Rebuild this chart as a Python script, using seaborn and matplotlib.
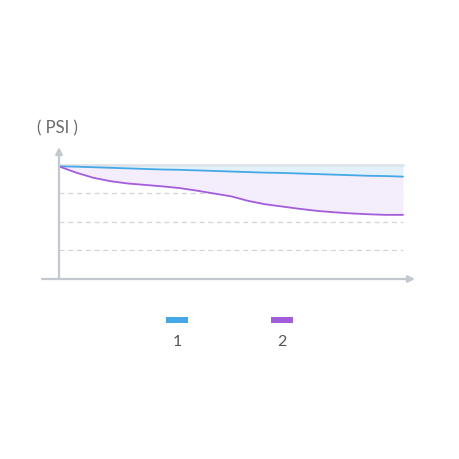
import numpy as np
import pandas as pd
import matplotlib
matplotlib.use("Agg")
import matplotlib.pyplot as plt
from matplotlib.patches import Rectangle
import seaborn as sns

# Data:
steps = list(range(21))
series_1 = [3.95, 3.94, 3.92, 3.90, 3.88, 3.86, 3.84, 3.83, 3.81, 3.79, 3.77,
            3.75, 3.73, 3.72, 3.70, 3.68, 3.66, 3.64, 3.62, 3.61, 3.59]
series_2 = [3.95, 3.73, 3.55, 3.43, 3.35, 3.30, 3.25, 3.19, 3.10, 3.00, 2.90,
            2.74, 2.62, 2.54, 2.46, 2.39, 2.34, 2.30, 2.27, 2.25, 2.25]
grid_levels = [1, 2, 3]
top_level = 4
series_names = ["1", "2"]
unit_label = "( PSI )"

blue = "#45a8e6"
purple = "#a35ddc"
axis_grey = "#c3c8d0"

df = pd.DataFrame({
    "step": steps * 2,
    "value": series_1 + series_2,
    "series": [series_names[0]] * len(steps) + [series_names[1]] * len(steps),
})

sns.set_style("white")
plt.rcParams["font.family"] = ["Lato", "DejaVu Sans"]

fig = plt.figure(figsize=(4.6, 4.6), dpi=100)
ax = fig.add_axes([42 / 460, 180 / 460, 373 / 460, 132 / 460])

# Fills:
ax.fill_between(steps, series_1, top_level, color="#e2f1fb", lw=0, zorder=1)
ax.fill_between(steps, series_2, series_1, color="#f4edfc", lw=0, zorder=1)

# Grid lines:
for g in grid_levels:
    ax.plot([steps[0], steps[-1]], [g, g], color="#d4d4d4", lw=0.9, ls=(0, (4, 3)), zorder=0)
ax.plot([steps[0], steps[-1]], [top_level, top_level], color="#dfe3ea", lw=2.0, zorder=1)

# Lines:
sns.lineplot(data=df, x="step", y="value", hue="series",
             palette=[blue, purple], lw=1.3, legend=False, ax=ax, zorder=3)

ax.set_xlim(-0.988, 20.698)
ax.set_ylim(0, 4.63)
ax.set_axis_off()

# Axes with arrows:
ax.annotate("", xy=(20.698, 0), xytext=(-0.988, 0),
            arrowprops=dict(arrowstyle="-|>", color=axis_grey, lw=1.6, mutation_scale=10,
                            shrinkA=0, shrinkB=0), annotation_clip=False)
ax.annotate("", xy=(0, 4.63), xytext=(0, 0),
            arrowprops=dict(arrowstyle="-|>", color=axis_grey, lw=1.6, mutation_scale=10,
                            shrinkA=0, shrinkB=0), annotation_clip=False)

fig.text(57 / 460, 1 - 128 / 460, unit_label, ha="center", va="center",
         fontsize=12, color="#6a6a6a")

# Legend (patch above label):
for name, col, cx in zip(series_names, [blue, purple], [177, 282]):
    fig.add_artist(Rectangle(((cx - 11) / 460, 1 - 324 / 460), 22 / 460, 6 / 460,
                             transform=fig.transFigure, color=col, lw=0))
    fig.text(cx / 460, 1 - 342 / 460, name, ha="center", va="center",
             fontsize=11.5, color="#555555")

fig.savefig("out.png", dpi=100, facecolor="white")
